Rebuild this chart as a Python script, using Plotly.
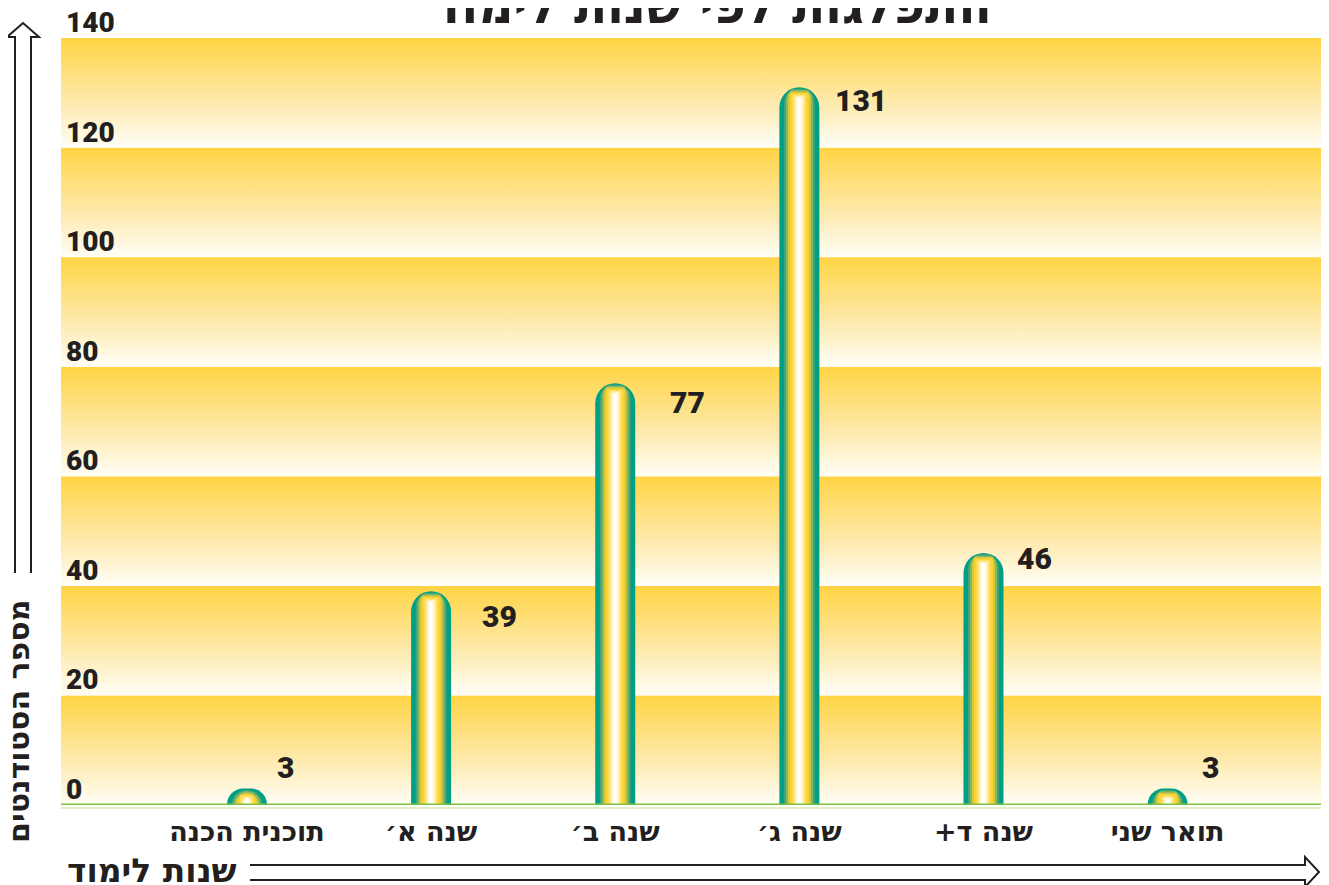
import base64
import plotly.graph_objects as go

# data
categories = ["תוכנית הכנה", "שנה א׳", "שנה ב׳", "שנה ג׳", "שנה ד+\u200f", "תואר שני"]
students = [3, 39, 77, 131, 46, 3]
y_ticks = [0, 20, 40, 60, 80, 100, 120, 140]

title = "התפלגות לפי שנות לימוד"
y_title = "מספר הסטודנטים"
x_title = "שנות לימוד"

# styling
OFF = 8  # the page body margin shifts the figure by this much
W, H = 1329 - OFF, 885 - OFF
M = dict(l=61 - OFF, r=3, t=38 - OFF, b=80)
PW, PH = W - M["l"] - M["r"], H - M["t"] - M["b"]
PLOT_LEFT, PLOT_BOTTOM = M["l"] + OFF, M["t"] + OFF + PH
TEXT = "#231F20"
FONT = "DejaVu Sans"
NUM_FONT = "Roboto, DejaVu Sans"
x_range = [-1.01, 5.86]
y_max = y_ticks[-1]
slot_px = PW / (x_range[1] - x_range[0])

# pill bars faked with overlaid bars, outer teal -> inner white highlight (widths in px)
layers = [
    (40, "#009E84"),
    (31, "#3AA77B"),
    (27, "#86B762"),
    (23, "#D2C843"),
    (19, "#F9D330"),
    (14, "#FFDF5A"),
    (10, "#FFEDA8"),
    (6, "#FFFAE6"),
    (2.5, "#FFFFFF"),
]
label_xshift = [28, 49, 53, 34, 31, 32]
label_yshift = [21, -25, -19, -13, -6, 21]

xpos = list(range(len(categories)))


def px_x(X):
    return (X - PLOT_LEFT) / PW


def px_y(Y):
    return (PLOT_BOTTOM - Y) / PH


def band_svg():
    step = y_ticks[1] - y_ticks[0]
    rects = []
    for lo in y_ticks[:-1]:
        top = (y_max - lo - step) / y_max * 700
        h = step / y_max * 700
        rects.append(f'<rect x="0" y="{top:.3f}" width="1000" height="{h:.3f}" fill="url(#g)"/>')
    svg = (
        '<svg xmlns="http://www.w3.org/2000/svg" width="1000" height="700" '
        'viewBox="0 0 1000 700" preserveAspectRatio="none">'
        '<defs><linearGradient id="g" x1="0" y1="0" x2="0" y2="1">'
        '<stop offset="0" stop-color="#FFD443"/>'
        '<stop offset="0.55" stop-color="#FEE8A6"/>'
        '<stop offset="1" stop-color="#FFFEF7"/>'
        '</linearGradient></defs>' + "".join(rects) + "</svg>"
    )
    return "data:image/svg+xml;base64," + base64.b64encode(svg.encode()).decode()


fig = go.Figure()

for i, (w, c) in enumerate(layers):
    fig.add_trace(go.Bar(
        x=xpos,
        y=[max(v - i * 0.25, 0.5) for v in students],
        width=w / slot_px,
        marker=dict(color=c, line_width=0, cornerradius="50%"),
        hoverinfo="skip",
    ))

annotations = []
for x, v, dx, dy in zip(xpos, students, label_xshift, label_yshift):
    annotations.append(dict(
        x=x, y=v, xref="x", yref="y", text=str(v), showarrow=False,
        xanchor="left", yanchor="middle", xshift=dx, yshift=dy,
        font=dict(family=NUM_FONT, size=30, color=TEXT, weight=900),
    ))

for t in y_ticks:
    annotations.append(dict(
        x=0, y=t, xref="paper", yref="y", text=str(t), showarrow=False,
        xanchor="left", yanchor="bottom", xshift=3, yshift=-3,
        font=dict(family=NUM_FONT, size=28, color=TEXT, weight=900),
    ))

annotations += [
    dict(x=px_x(712), y=px_y(5), xref="paper", yref="paper", text=title,
         showarrow=False, xanchor="center", yanchor="middle",
         font=dict(family="DejaVu Sans Condensed, DejaVu Sans", size=54, color=TEXT, weight="bold")),
    dict(x=px_x(18), y=px_y(722), xref="paper", yref="paper", text=y_title,
         showarrow=False, textangle=-90, xanchor="center", yanchor="middle",
         font=dict(family=FONT, size=30, color=TEXT, weight="bold")),
    dict(x=px_x(152), y=px_y(870), xref="paper", yref="paper", text=x_title,
         showarrow=False, xanchor="center", yanchor="middle",
         font=dict(family=FONT, size=33, color=TEXT, weight="bold")),
]


def path(points):
    return "M" + " L".join(f"{px_x(a):.5f},{px_y(b):.5f}" for a, b in points)


up_arrow = [(15, 573), (15, 37), (7, 37), (23, 23), (39, 37), (31, 37), (31, 573)]
right_arrow = [(250, 865), (1305, 865), (1305, 857), (1319, 872), (1305, 887), (1305, 880), (250, 880)]

shapes = [
    dict(type="line", xref="paper", yref="y", x0=0, x1=1, y0=0, y1=0,
         line=dict(color="#7DC143", width=3), layer="above"),
    dict(type="line", xref="paper", yref="paper", x0=0, x1=1, y0=-3 / PH, y1=-3 / PH,
         line=dict(color="#DCEFC0", width=2)),
    dict(type="path", xref="paper", yref="paper", path=path(up_arrow),
         line=dict(color=TEXT, width=2)),
    dict(type="path", xref="paper", yref="paper", path=path(right_arrow),
         line=dict(color=TEXT, width=2)),
]

fig.update_layout(
    width=W, height=H, margin=M,
    barmode="overlay", showlegend=False,
    paper_bgcolor="white", plot_bgcolor="white",
    images=[dict(source=band_svg(), xref="x", yref="y", x=x_range[0], y=y_max,
                 sizex=x_range[1] - x_range[0], sizey=y_max,
                 xanchor="left", yanchor="top", sizing="stretch", layer="below")],
    annotations=annotations,
    shapes=shapes,
    xaxis=dict(range=x_range, tickvals=xpos, ticktext=categories, showgrid=False,
               zeroline=False, showline=False, ticks="", ticklabelstandoff=8,
               tickfont=dict(family=FONT, size=27, color=TEXT, weight="bold")),
    yaxis=dict(range=[0, y_max], showgrid=False, zeroline=False, showline=False,
               showticklabels=False),
)

fig.write_html("out.html")
